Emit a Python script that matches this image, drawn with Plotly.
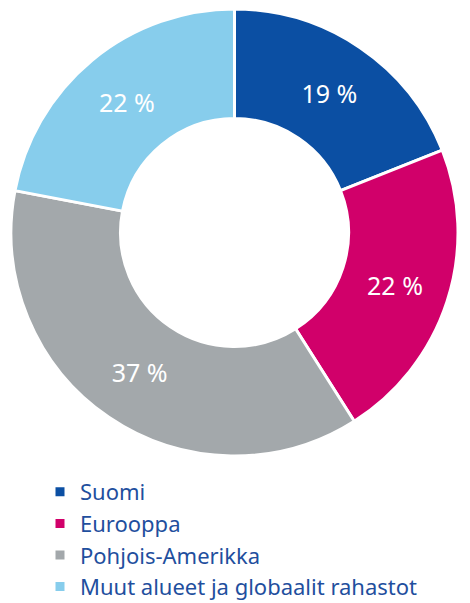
import plotly.graph_objects as go

labels = ["Suomi", "Eurooppa", "Pohjois-Amerikka", "Muut alueet ja globaalit rahastot"]
values = [19, 22, 37, 22]
colors = ["#0b4fa3", "#d1006a", "#a3a8ab", "#87cdec"]

# page body has an 8px default margin, so the figure is sized to fit the 470x603 window
W, H = 462, 595

fig = go.Figure(go.Pie(
    labels=labels,
    values=values,
    sort=False,
    direction="clockwise",
    rotation=0,
    hole=0.51,
    marker=dict(colors=colors, line=dict(color="white", width=3)),
    texttemplate="%{value} %",
    textposition="inside",
    insidetextorientation="horizontal",
    textfont=dict(color="white", size=25, family="Noto Sans"),
    domain=dict(x=[2 / W, 451 / W], y=[1 - 448 / H, 1 - 1 / H]),
    hoverinfo="label+value",
))

fig.update_layout(
    width=W,
    height=H,
    margin=dict(l=0, r=0, t=0, b=0, autoexpand=False),
    paper_bgcolor="white",
    plot_bgcolor="white",
    showlegend=True,
    legend=dict(
        x=32 / W,
        xanchor="left",
        y=1 - 463 / H,
        yanchor="top",
        font=dict(family="Noto Sans", size=22, color="#1f4f9e"),
        itemclick=False,
        itemdoubleclick=False,
        bgcolor="rgba(0,0,0,0)",
        tracegroupgap=0,
    ),
    font=dict(family="Noto Sans"),
)

fig.write_html("out.html")
